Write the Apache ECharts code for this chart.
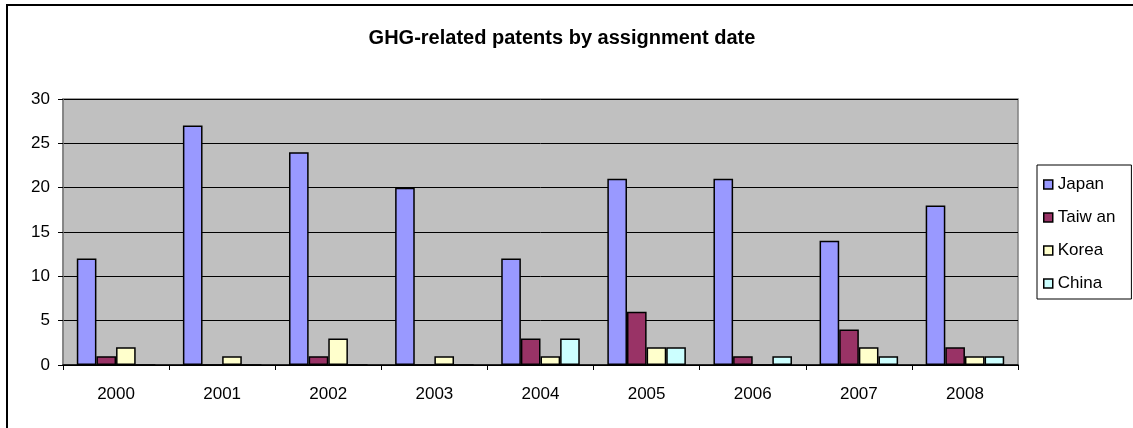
<!DOCTYPE html>
<html>
<head>
<meta charset="utf-8">
<script src="https://cdn.jsdelivr.net/npm/echarts@6/dist/echarts.min.js"></script>
<style>
  html, body { margin: 0; padding: 0; background: #ffffff; }
  #chart { width: 1133px; height: 428px; }
</style>
</head>
<body>
<div id="chart"></div>
<script>
// Patent counts per year of assignment
const years = ['2000', '2001', '2002', '2003', '2004', '2005', '2006', '2007', '2008'];
const seriesNames = ['Japan', 'Taiw an', 'Korea', 'China'];
const japan  = [12, 27, 24, 20, 12, 21, 21, 14, 18];
const taiwan = [1, 0, 1, 0, 3, 6, 1, 4, 2];
const korea  = [2, 1, 3, 1, 1, 2, 0, 2, 1];
const china  = [0, 0, 0, 0, 3, 2, 1, 1, 1];
const yTicks = [0, 5, 10, 15, 20, 25, 30];

const colors = ['#9999FF', '#993366', '#FFFFCC', '#CCFFFF'];
const values = [japan, taiwan, korea, china];
const FONT = '"Liberation Sans", Arial, sans-serif';

const chart = echarts.init(document.getElementById('chart'), null, { renderer: 'canvas' });

chart.setOption({
  animation: false,
  backgroundColor: '#ffffff',
  textStyle: { fontFamily: FONT, color: '#000000' },
  title: {
    text: 'GHG-related patents by assignment date',
    left: 557,
    textAlign: 'center',
    top: 23,
    textStyle: { fontFamily: FONT, fontSize: 20, fontWeight: 'bold', color: '#000000' }
  },
  graphic: [{
    type: 'rect',
    shape: { x: 7, y: 5, width: 1140, height: 440 },
    style: { fill: 'none', stroke: '#000000', lineWidth: 2 },
    silent: true,
    z: 100
  }],
  legend: {
    orient: 'vertical',
    left: 1037,
    top: 165,
    padding: [11, 16, 7, 6],
    itemGap: 16,
    itemWidth: 9,
    itemHeight: 9,
    icon: 'rect',
    borderColor: '#000000',
    borderWidth: 1,
    backgroundColor: '#ffffff',
    itemStyle: { borderColor: '#000000', borderWidth: 1.5 },
    textStyle: { fontFamily: FONT, fontSize: 17, color: '#000000' },
    data: seriesNames
  },
  grid: {
    left: 63, top: 99, width: 955, height: 266,
    show: true,
    backgroundColor: '#C0C0C0',
    borderColor: '#808080',
    borderWidth: 1.5
  },
  xAxis: {
    type: 'category',
    data: years,
    axisLine: { show: true, lineStyle: { color: '#000000', width: 1.5 } },
    axisTick: { show: true, length: 5, lineStyle: { color: '#000000' } },
    axisLabel: { fontFamily: FONT, fontSize: 17, color: '#000000', margin: 21 }
  },
  yAxis: {
    type: 'value',
    min: yTicks[0],
    max: yTicks[yTicks.length - 1],
    interval: 5,
    axisLine: { show: true, lineStyle: { color: '#808080', width: 1.5 } },
    axisTick: { show: true, length: 5, lineStyle: { color: '#000000' } },
    axisLabel: { fontFamily: FONT, fontSize: 17, color: '#000000', margin: 13 },
    splitLine: { show: true, lineStyle: { color: '#000000', width: 1 } }
  },
  series: seriesNames.map((name, i) => ({
    name: name,
    type: 'bar',
    data: values[i],
    barGap: '0%',
    barCategoryGap: '26%',
    itemStyle: { color: colors[i], borderColor: '#000000', borderWidth: 1.5 }
  }))
});
</script>
</body>
</html>
